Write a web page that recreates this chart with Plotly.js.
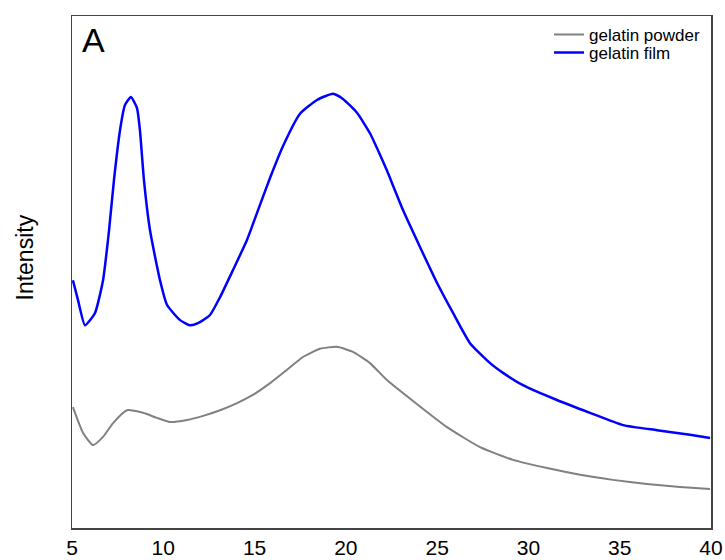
<!DOCTYPE html>
<html>
<head>
<meta charset="utf-8">
<script src="https://cdn.plot.ly/plotly-3.0.1.min.js"></script>
<style>html,body{margin:0;padding:0;background:#fff;}#chart{width:725px;height:560px;}</style>
</head>
<body>
<div id="chart"></div>
<script>
// 2θ (degrees) and intensity (a.u.)
var filmX = [5.05, 5.33, 5.71, 6.26, 6.70, 7.03, 7.30, 7.63, 7.90, 8.23, 8.56, 8.72, 8.94, 9.27, 9.82, 10.20, 10.92, 11.46, 11.90, 12.56, 13.11, 13.82, 14.59, 15.13, 15.85, 16.56, 17.49, 18.42, 19.30, 19.84, 20.61, 21.32, 21.87, 22.25, 23.13, 24.06, 24.99, 25.87, 26.80, 27.90, 28.61, 29.70, 31.56, 33.37, 35.18, 37.04, 38.85, 39.95];
var filmY = [48.4, 44.5, 39.6, 42.0, 48.4, 58.2, 68.0, 77.7, 82.6, 84.2, 82.0, 77.7, 68.0, 58.2, 48.4, 43.6, 40.6, 39.6, 40.0, 41.6, 45.1, 50.4, 56.3, 61.5, 68.4, 74.6, 80.9, 83.6, 84.8, 83.8, 81.1, 77.1, 72.9, 69.8, 62.1, 54.9, 47.9, 42.0, 36.1, 32.2, 30.3, 27.9, 25.0, 22.5, 20.1, 19.1, 18.2, 17.6];

var powderX = [5.05, 5.60, 6.15, 6.70, 7.25, 8.01, 8.89, 9.66, 10.37, 11.30, 12.18, 13.11, 14.04, 14.91, 15.85, 16.78, 17.65, 18.58, 19.51, 20.39, 21.32, 22.25, 23.68, 25.54, 27.35, 29.16, 31.02, 32.83, 34.63, 36.49, 38.30, 39.95];
var powderY = [23.6, 18.6, 16.2, 17.8, 20.5, 23.0, 22.5, 21.5, 20.7, 21.1, 21.9, 23.0, 24.4, 26.0, 28.3, 30.9, 33.4, 35.0, 35.4, 34.4, 32.2, 28.9, 24.8, 19.7, 15.8, 13.3, 11.7, 10.4, 9.4, 8.6, 8.0, 7.6];

var xTicks = [5, 10, 15, 20, 25, 30, 35, 40];
var seriesNames = ["gelatin powder", "gelatin film"];

var font = "Liberation Sans, Arial, sans-serif";
var legFont = {size: 17, family: font, color: "#000"};

var traces = [
  {x: powderX, y: powderY, name: seriesNames[0], type: "scatter", mode: "lines", legend: "legend",
   line: {color: "#808080", width: 2, shape: "spline", smoothing: 0.5}},
  {x: filmX, y: filmY, name: seriesNames[1], type: "scatter", mode: "lines", legend: "legend2",
   line: {color: "#0000ff", width: 2.5, shape: "spline", smoothing: 0.5}}
];

var layout = {
  width: 725, height: 560,
  margin: {l: 72, r: 14, t: 16, b: 32},
  paper_bgcolor: "#fff", plot_bgcolor: "#fff",
  font: {family: font, color: "#000"},
  showlegend: true,
  legend: {x: 0.7465, y: 0.963, xanchor: "left", yanchor: "middle", bgcolor: "rgba(0,0,0,0)", font: legFont},
  legend2: {x: 0.7465, y: 0.928, xanchor: "left", yanchor: "middle", bgcolor: "rgba(0,0,0,0)", font: legFont},
  xaxis: {range: [5, 40], tickvals: xTicks, ticktext: xTicks.map(String), ticks: "",
          showgrid: false, zeroline: false, showline: true, mirror: true,
          linecolor: "#444", linewidth: 1.5, tickfont: {size: 21, family: font, color: "#000"}},
  yaxis: {range: [0, 100], showticklabels: false, ticks: "", showgrid: false, zeroline: false,
          showline: true, mirror: true, linecolor: "#444", linewidth: 1.5},
  annotations: [
    {text: "Intensity", xref: "paper", yref: "paper", x: -0.073, y: 0.529, xanchor: "center", yanchor: "middle",
     textangle: -90, showarrow: false, font: {size: 23, family: font, color: "#000"}},
    {text: "A", xref: "paper", yref: "paper", x: 0.012, y: 0.995, xanchor: "left", yanchor: "top",
     showarrow: false, font: {size: 34, family: font, color: "#000"}}
  ]
};

Plotly.newPlot("chart", traces, layout, {displayModeBar: false, staticPlot: true});
</script>
</body>
</html>
